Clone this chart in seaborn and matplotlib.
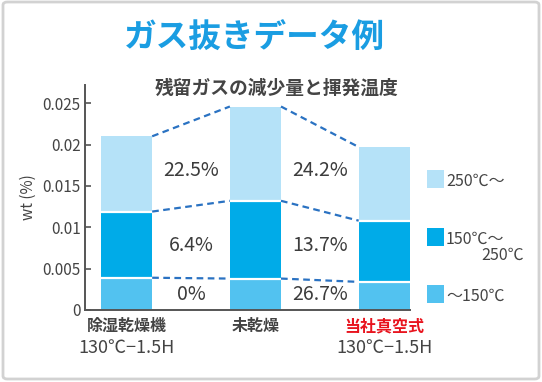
import matplotlib
matplotlib.use('Agg')
import matplotlib.pyplot as plt
import seaborn as sns
import pandas as pd
import numpy as np
from matplotlib.patches import Rectangle, FancyBboxPatch

# ---- data ----
categories = ['除湿乾燥機', '未乾燥', '当社真空式']
conditions = ['130℃−1.5H', '', '130℃−1.5H']
low_vals = [0.0039, 0.0038, 0.0034]    # ～150℃
mid_vals = [0.0080, 0.0094, 0.0074]    # 150℃～250℃
high_vals = [0.0091, 0.0114, 0.0089]   # 250℃～
pct_high = ['22.5%', '24.2%']
pct_mid = ['6.4%', '13.7%']
pct_low = ['0%', '26.7%']
legend_labels = ['250℃～', '150℃～', '～150℃']
yticks = [0, 0.005, 0.01, 0.015, 0.02, 0.025]
ytick_labels = ['0', '0.005', '0.01', '0.015', '0.02', '0.025']

sns.set_theme(style='white')
plt.rcParams['font.family'] = ['Noto Sans CJK JP', 'DejaVu Sans']

C_HIGH = '#b5e2f8'
C_MID = '#00abe8'
C_LOW = '#52c2f0'
TXT = '#444444'
DASH = '#2a72c2'

low = np.array(low_vals)
mid = low + np.array(mid_vals)
top = mid + np.array(high_vals)
df = pd.DataFrame({'cat': categories, 'low': low, 'mid': mid, 'top': top})

fig = plt.figure(figsize=(5.42, 3.82), dpi=100)
ax = fig.add_axes([85/542, 1-310/382, 325/542, 225/382])

W = 0.397
for col, c in [('top', C_HIGH), ('mid', C_MID), ('low', C_LOW)]:
    sns.barplot(data=df, x='cat', y=col, color=c, saturation=1, width=W,
                linewidth=0, errorbar=None, ax=ax)

xs = np.arange(len(categories))
ax.hlines(low, xs-W/2, xs+W/2, color='white', lw=1.6, zorder=3)
ax.hlines(mid, xs-W/2, xs+W/2, color='white', lw=1.6, zorder=3)

for level in (top, mid, low):
    for i in range(len(categories)-1):
        ax.plot([i+W/2, i+1-W/2], [level[i], level[i+1]], color=DASH,
                lw=1.6, ls=(0, (3, 2)), zorder=4)

rows = [(pct_high, (mid+top)/2), (pct_mid, (low+mid)/2), (pct_low, low/2)]
for labels, mids in rows:
    yrow = mids.mean()
    for i, t in enumerate(labels):
        ax.text(i+0.5, yrow, t, ha='center', va='center', fontsize=14,
                color='#3c3c3c')

ax.set_xlim(-0.323, 2.2)
ax.set_ylim(0, 0.0272)
ax.set_yticks(yticks)
ax.set_yticklabels(ytick_labels)
ax.tick_params(axis='y', direction='in', length=4, width=1.2, color='#555555',
               labelsize=11, labelcolor=TXT, pad=3, left=True)
ax.tick_params(axis='x', length=0, labelsize=11.5, pad=6, labelcolor=TXT)
ax.set_xticks(xs)
ax.set_xticklabels(categories)
for lab, c in zip(ax.get_xticklabels(), [TXT, TXT, '#e8141e']):
    lab.set_color(c)
    lab.set_fontweight('bold')
for i, c in enumerate(conditions):
    ax.text(i, -0.168, c, transform=ax.get_xaxis_transform(), ha='center',
            va='center', fontsize=13, color=TXT)
ax.set_xlabel('')
ax.set_ylabel('wt (%)', fontsize=11, color=TXT, labelpad=4)
for s in ('top', 'right'):
    ax.spines[s].set_visible(False)
for s in ('left', 'bottom'):
    ax.spines[s].set_color('#555555')
    ax.spines[s].set_linewidth(1.4)

# title / subtitle
fig.text(254/542, 1-38/382, 'ガス抜きデータ例', ha='center', va='center',
         fontsize=23.5, fontweight='bold', color='#1a9de2')
fig.text(277/542, 1-88/382, '残留ガスの減少量と揮発温度', ha='center',
         va='center', fontsize=13.5, fontweight='bold', color=TXT)

# legend
for (yc, c, lab) in [(179, C_HIGH, legend_labels[0]), (237, C_MID, legend_labels[1]),
                     (294, C_LOW, legend_labels[2])]:
    fig.patches.append(Rectangle((427/542, 1-(yc+9)/382), 17/542, 18/382,
                                 transform=fig.transFigure, facecolor=c,
                                 edgecolor='none'))
    fig.text(446/542, 1-(yc+2)/382, lab, ha='left', va='center', fontsize=11.5,
             color=TXT)
fig.text(524/542, 1-255/382, '250℃', ha='right', va='center', fontsize=11.5,
         color=TXT)

# frame
fig.patches.append(FancyBboxPatch((3/542, 3/382), 536/542, 377/382,
                                  boxstyle='round,pad=0,rounding_size=0.008',
                                  transform=fig.transFigure, facecolor='none',
                                  edgecolor='#d2d2d2', lw=2))

fig.savefig('out.png', dpi=100)
